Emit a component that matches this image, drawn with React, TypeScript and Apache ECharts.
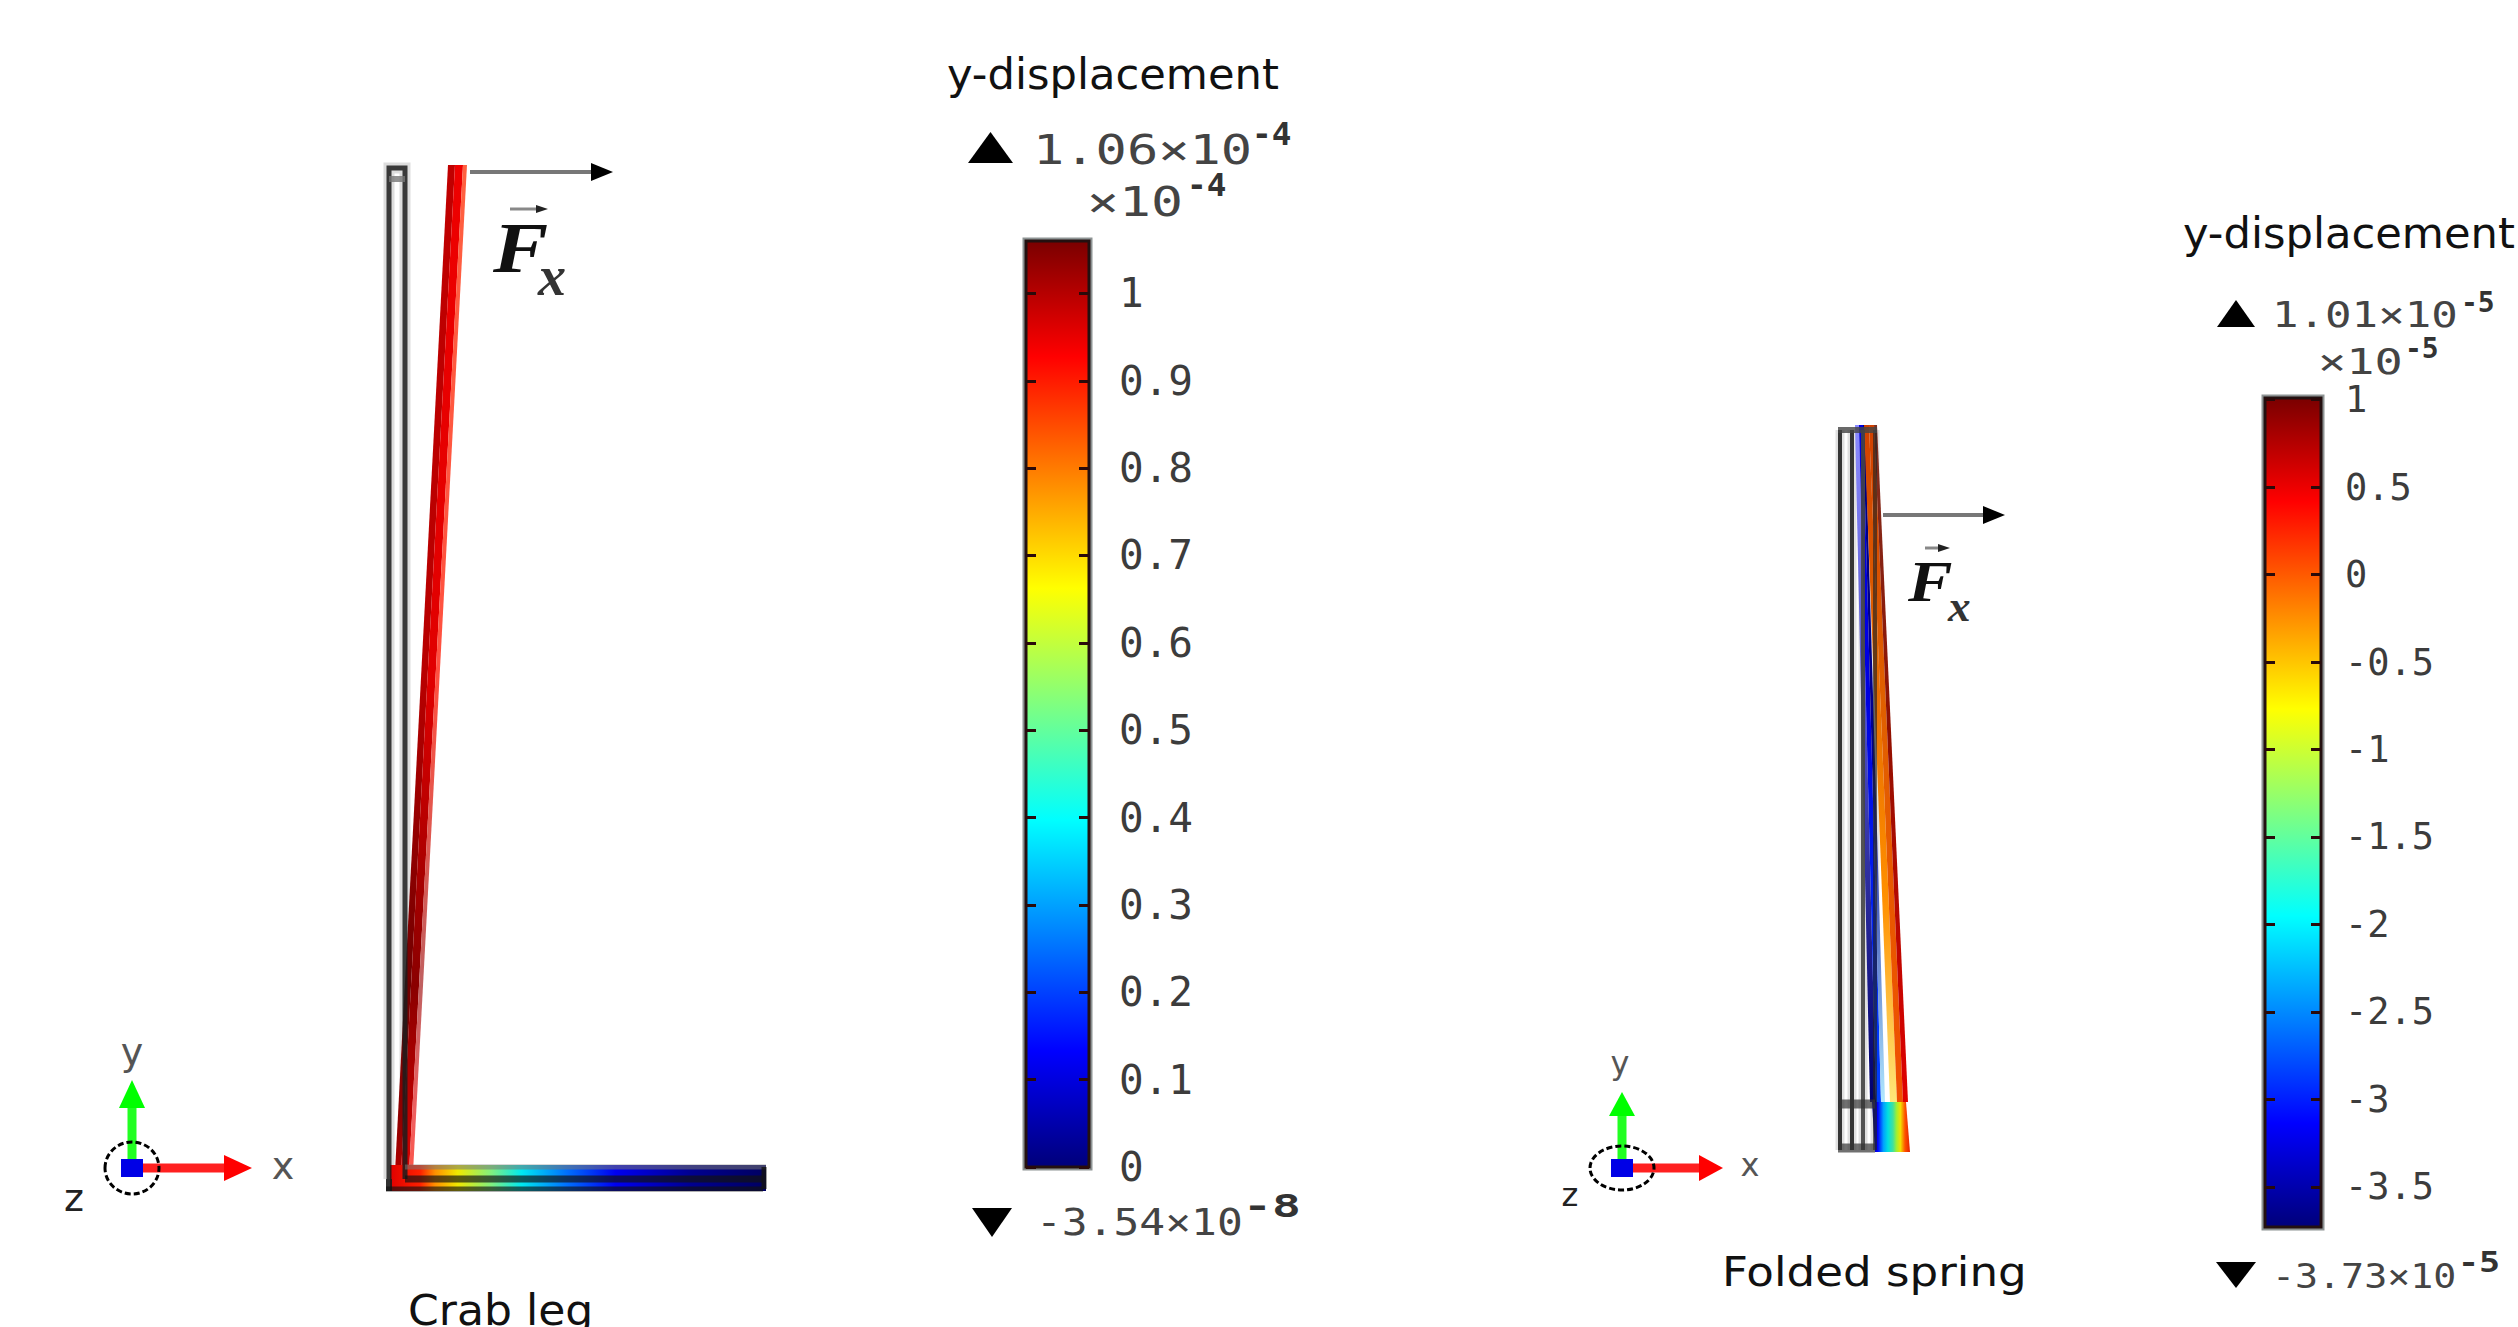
import React, { useEffect, useRef } from "react";
import * as echarts from "echarts";

// Colour-bar ranges and ticks (units of the bar's multiplier)
const crabLegRange = [0, 1.06];
const crabLegTicks = [0, 0.1, 0.2, 0.3, 0.4, 0.5, 0.6, 0.7, 0.8, 0.9, 1];
const springRange = [-3.73, 1.01];
const springTicks = [-3.5, -3, -2.5, -2, -1.5, -1, -0.5, 0, 0.5, 1];
const jetStops: [number, string][] = [
  [0, "#00007a"], [0.125, "#0000ff"], [0.375, "#00ffff"], [0.625, "#ffff00"], [0.875, "#ff0000"], [1, "#7a0000"],
];

// Crab leg geometry (model length units): deformed beam strips, foot, undeformed outline
const crabColumnDark = [[9, 0], [15, 0], [70, 1026], [63, 1026]];
const crabColumnCore = [[15, 0], [23, 0], [78, 1026], [70, 1026]];
const crabColumnPale = [[23, 0], [27, 0], [82, 1026], [78, 1026]];
const crabFoot = [[5, 0], [381, 0], [381, 26], [5, 26]];
const crabOutlineUpright = [[4, 12], [4, 1023], [20, 1023], [20, 12]];
const crabOutlineCap = [[4, 1012], [20, 1012]];
const crabOutlineFootBottom = [[1, 2], [378, 2]];
const crabOutlineFootMiddle = [[20, 12], [378, 12]];
const crabOutlineFootTop = [[20, 24], [381, 24]];
const crabOutlineFootEnd = [[379, 2], [379, 24]];
const crabOutlineLeftEdge = [[4, 0], [4, 12]];

// Folded spring geometry (model length units)
const springBlueA = [[35, 50], [41, 50], [24, 727], [20, 727]];
const springBlueB = [[41, 50], [46, 50], [28, 727], [24, 727]];
const springBlueC = [[46, 50], [50, 50], [30, 727], [28, 727]];
const springRedA = [[55, 50], [62, 50], [34, 727], [29, 727]];
const springRedB = [[62, 50], [68, 50], [39, 727], [34, 727]];
const springRedC = [[68, 50], [73, 50], [42, 727], [39, 727]];
const springBase = [[40, 0], [75, 0], [71, 50], [37, 50]];
const springLines = [5, 17, 28, 40];
const springCrossBars = [4, 48];
const springTop = 722;

const mono = "'DejaVu Sans Mono'";
const sans = "'DejaVu Sans'";
const serif = "'Liberation Serif'";

const grad = (x: number, y: number, x2: number, y2: number, stops: [number, string][]) =>
  new echarts.graphic.LinearGradient(x, y, x2, y2, stops.map(([offset, color]) => ({ offset, color })));

function quad(name: string, gridIndex: number, yAxisIndex: number, pts: number[][], fill: any, z = 3): any {
  return {
    type: "custom", name, xAxisIndex: gridIndex, yAxisIndex, z, silent: true, clip: false,
    data: [pts.flat()],
    encode: { x: [0, 2, 4, 6], y: [1, 3, 5, 7] },
    renderItem: (_p: any, api: any) => ({
      type: "polygon",
      shape: { points: pts.map((_, i) => api.coord([api.value(i * 2), api.value(i * 2 + 1)])) },
      style: { fill },
    }),
  };
}
function polyline(name: string, gridIndex: number, yAxisIndex: number, pts: number[][], color: string, width: number, opacity = 1, z = 5): any {
  return {
    type: "line", name, xAxisIndex: gridIndex, yAxisIndex, z, silent: true, clip: false,
    data: pts, showSymbol: false, symbol: "none", animation: false,
    lineStyle: { color, width, opacity, cap: "butt", join: "miter" },
  };
}
function colorBar(name: string, gridIndex: number, axisIndex: number, range: number[]): any {
  return {
    type: "custom", name, xAxisIndex: gridIndex, yAxisIndex: axisIndex, z: 1, silent: true, clip: false,
    data: [[0, range[0], 1, range[1]]],
    encode: { x: [0, 2], y: [1, 3] },
    renderItem: (_p: any, api: any) => {
      const a = api.coord([api.value(0), api.value(1)]);
      const b = api.coord([api.value(2), api.value(3)]);
      const rect = { x: a[0], y: b[1], width: b[0] - a[0], height: a[1] - b[1] };
      return {
        type: "group",
        children: [
          { type: "rect", shape: { x: rect.x - 2, y: rect.y - 2, width: rect.width + 4, height: rect.height + 4 }, style: { fill: "#fff", stroke: "#8e9494", lineWidth: 3 } },
          { type: "rect", shape: rect, style: { fill: grad(0, 1, 0, 0, jetStops), stroke: "#231010", lineWidth: 3 } },
        ],
      };
    },
  };
}
function valueAxis(gridIndex: number, range: number[], ticks: number[], position: string, fontSize: number, margin: number, labels: boolean): any {
  return {
    type: "value", gridIndex, min: range[0], max: range[1], position, splitLine: { show: false },
    axisLine: { show: false },
    axisTick: { show: true, inside: true, length: 10, customValues: ticks, lineStyle: { color: "#2a0a0a", width: 3 } },
    axisLabel: labels
      ? { show: true, customValues: ticks, fontFamily: mono, fontSize, color: "#3c3c3c", margin, align: "left", formatter: (v: number) => String(v) }
      : { show: false },
    z: 4,
  };
}
const hiddenAxis = (gridIndex: number, min: number, max: number): any => ({ type: "value", gridIndex, min, max, show: false });

const txt = (x: number, y: number, text: string, fontSize: number, family: string, color: string, scaleX = 1, extra: any = {}) => ({
  type: "text", x, y, scaleX, z: 20, silent: true,
  style: { text, fontSize, fontFamily: family, fill: color, align: "left", verticalAlign: "middle", ...extra },
});
const sup = (x: number, y: number, text: string, fontSize: number, scaleX: number) =>
  txt(x, y, text, fontSize, mono, "#333", scaleX, { fontWeight: "bold" });
const poly = (pts: number[][], fill: string, opacity = 1) => ({ type: "polygon", z: 18, silent: true, shape: { points: pts }, style: { fill, opacity } });
const seg = (x1: number, y1: number, x2: number, y2: number, stroke: string, lineWidth: number) => ({
  type: "line", z: 17, silent: true, shape: { x1, y1, x2, y2 }, style: { stroke, lineWidth },
});

function triad(ox: number, oy: number, topY: number, tipX: number, rx: number, ry: number, head: number, lab: number[][], fs: number) {
  return [
    seg(ox, oy, ox, topY + head, "#22ff22", 9),
    poly([[ox, topY], [ox - 13, topY + head], [ox + 13, topY + head]], "#00ff00"),
    seg(ox, oy, tipX - head, oy, "#ff2020", 9),
    poly([[tipX, oy], [tipX - head, oy - 13], [tipX - head, oy + 13]], "#ff0000"),
    { type: "rect", z: 19, silent: true, shape: { x: ox - 11, y: oy - 9, width: 22, height: 18 }, style: { fill: "#0000e6" } },
    { type: "ellipse", z: 19, silent: true, shape: { cx: ox, cy: oy, rx, ry }, style: { fill: "none", stroke: "#000", lineWidth: 3, lineDash: [6, 3] } },
    txt(lab[0][0], lab[0][1], "y", fs, sans, "#555", 1, { align: "center" }),
    txt(lab[1][0], lab[1][1], "x", fs, sans, "#555", 1, { align: "center" }),
    txt(lab[2][0], lab[2][1], "z", fs, sans, "#222", 1, { align: "center" }),
  ];
}
function force(ax1: number, ay: number, ax2: number, fx: number, fy: number, fs: number, sub: number[], vec: number[]) {
  return [
    seg(ax1, ay, ax2 - 20, ay, "#777", 4),
    poly([[ax2, ay], [ax2 - 22, ay - 9], [ax2 - 22, ay + 9]], "#000"),
    txt(fx, fy, "F", fs, serif, "#111", 1.15, { fontWeight: "bold", fontStyle: "italic" }),
    txt(sub[0], sub[1], "x", fs * 0.78, serif, "#333", 1, { fontWeight: "bold", fontStyle: "italic" }),
    seg(vec[0], vec[2], vec[1] - 8, vec[2], "#888", 3),
    poly([[vec[1], vec[2]], [vec[1] - 12, vec[2] - 4], [vec[1] - 12, vec[2] + 4]], "#222"),
  ];
}
const triUp = (x1: number, x2: number, y1: number, y2: number) => poly([[(x1 + x2) / 2, y1], [x1, y2], [x2, y2]], "#000");
const triDown = (x1: number, x2: number, y1: number, y2: number) => poly([[(x1 + x2) / 2, y2], [x1, y1], [x2, y1]], "#000");

export default function App() {
  const ref = useRef<HTMLDivElement>(null);
  useEffect(() => {
    const chart = echarts.init(ref.current!, undefined, { renderer: "svg" });
    const columnFill = (a: string, b: string, c: string, d: string) =>
      grad(0, 0, 0, 1, [[0, a], [0.5, b], [0.8, c], [0.93, d], [1, b]]);
    // spring strips: first stop is at the fixed (lower) end of the strip
    const up = (stops: [number, string][]) => grad(0, 1, 0, 0, stops);
    const footFill = grad(0, 0, 1, 0, [[0, "#e00000"], [0.08, "#ff2000"], [0.12, "#ff9000"], [0.18, "#f0e800"], [0.27, "#80f080"], [0.35, "#00e8f0"], [0.47, "#0070ff"], [0.6, "#0000f0"], [0.8, "#000090"], [1, "#000060"]]);
    const springLinesData = springLines.map((x) => [[x, 2], [x, springTop]]);
    const series: any[] = [
      colorBar("crab colour bar", 1, 2, crabLegRange),
      colorBar("spring colour bar", 3, 6, springRange),
      quad("crab column dark", 0, 0, crabColumnDark, columnFill("#c00000", "#b80000", "#700000", "#900000")),
      quad("crab column core", 0, 0, crabColumnCore, columnFill("#ee0000", "#e00000", "#8a0000", "#c00000")),
      quad("crab column pale", 0, 0, crabColumnPale, columnFill("#ff6040", "#ff5040", "#c06060", "#f06060")),
      quad("crab foot", 0, 0, crabFoot, footFill),
      polyline("crab upright halo", 0, 0, crabOutlineUpright, "#bbbbbb", 11, 0.5, 2),
      polyline("crab upright", 0, 0, crabOutlineUpright, "#1c1c1c", 5, 0.85),
      polyline("crab cap", 0, 0, crabOutlineCap, "#777", 6, 0.8),
      polyline("crab left edge", 0, 0, crabOutlineLeftEdge, "#1c1c1c", 6, 0.9),
      polyline("crab foot bottom", 0, 0, crabOutlineFootBottom, "#111", 5, 0.65),
      polyline("crab foot middle", 0, 0, crabOutlineFootMiddle, "#111", 7, 0.68),
      polyline("crab foot top", 0, 0, crabOutlineFootTop, "#777", 5, 0.55),
      polyline("crab foot end", 0, 0, crabOutlineFootEnd, "#111", 5, 0.8),
      quad("spring base", 2, 3, springBase, grad(0, 0, 1, 0, [[0, "#000090"], [0.15, "#0000ff"], [0.3, "#00a0ff"], [0.42, "#00e0e0"], [0.55, "#40e0a0"], [0.65, "#a0f030"], [0.75, "#f0e000"], [0.87, "#ff5000"], [1, "#e02000"]])),
      quad("spring blue a", 2, 3, springBlueA, up([[0, "#000070"], [1, "#8a8aff"]])),
      quad("spring blue b", 2, 3, springBlueB, up([[0, "#0040ff"], [0.6, "#0000e0"], [1, "#0000e0"]])),
      quad("spring blue c", 2, 3, springBlueC, up([[0, "#b0e8ff"], [0.5, "#000090"], [1, "#000080"]])),
      quad("spring red a", 2, 3, springRedA, up([[0, "#ffe878"], [0.3, "#ff9000"], [0.7, "#e06000"], [1, "#d04000"]])),
      quad("spring red b", 2, 3, springRedB, up([[0, "#f05000"], [0.6, "#e06000"], [1, "#d04000"]])),
      quad("spring red c", 2, 3, springRedC, up([[0, "#e00000"], [0.55, "#901000"], [1, "#803020"]])),
      ...springLinesData.map((d, i) => polyline(`spring line halo ${i}`, 2, 3, d, "#bbb", 9, 0.45, 2)),
      ...springLinesData.map((d, i) => polyline(`spring line ${i}`, 2, 3, d, i === 2 ? "#444" : "#222", 4, i === 3 ? 0.65 : 0.9)),
      ...springCrossBars.map((y, i) => polyline(`spring bar ${i}`, 2, 3, [[3, y], [40, y]], "#333", 9, 0.7)),
      polyline("spring cap", 2, 3, [[3, springTop], [42, springTop]], "#444", 6, 0.8),
    ];
    chart.setOption({
      animation: false,
      backgroundColor: "#ffffff",
      tooltip: { show: false },
      grid: [
        { left: 385, top: 165, width: 381, height: 1026 },
        { left: 1026, top: 241, width: 63, height: 926 },
        { left: 1835, top: 425, width: 80, height: 727 },
        { left: 2265, top: 398, width: 56, height: 829 },
      ],
      xAxis: [hiddenAxis(0, 0, 381), hiddenAxis(1, 0, 1), hiddenAxis(2, 0, 80), hiddenAxis(3, 0, 1)],
      yAxis: [
        hiddenAxis(0, 0, 1026),
        valueAxis(1, crabLegRange, crabLegTicks, "left", 41, 0, false),
        valueAxis(1, crabLegRange, crabLegTicks, "right", 41, 30, true),
        hiddenAxis(2, 0, 727),
        hiddenAxis(2, 0, 727),
        valueAxis(3, springRange, springTicks, "left", 37, 0, false),
        valueAxis(3, springRange, springTicks, "right", 37, 24, true),
      ],
      series,
      graphic: [
        txt(947, 74, "y-displacement", 42, sans, "#111", 1.03),
        triUp(968, 1013, 132, 163),
        txt(1033, 150, "1.06×10", 40, mono, "#444", 1.3),
        sup(1252, 134, "-4", 32, 1.02),
        txt(1087, 202, "×10", 40, mono, "#444", 1.33),
        sup(1187, 185, "-4", 32, 1.02),
        triDown(972, 1012, 1208, 1237),
        txt(1036, 1222, "-3.54×10", 38, mono, "#444", 1.13),
        sup(1243, 1206, "-8", 32, 1.5),
        ...force(470, 172, 613, 493, 248, 72, [538, 276], [510, 548, 209]),
        ...triad(132, 1168, 1080, 252, 27, 26, 28, [[132, 1052], [283, 1166], [74, 1198]], 38),
        txt(408, 1310, "Crab leg", 42, sans, "#111", 1.05),

        txt(2183, 233, "y-displacement", 42, sans, "#111", 1.03),
        triUp(2217, 2255, 300, 327),
        txt(2272, 315, "1.01×10", 35, mono, "#444", 1.26),
        sup(2461, 302, "-5", 28, 1),
        txt(2318, 362, "×10", 35, mono, "#444", 1.34),
        sup(2405, 348, "-5", 28, 1),
        triDown(2216, 2256, 1262, 1288),
        txt(2272, 1276, "-3.73×10", 33, mono, "#444", 1.16),
        sup(2458, 1262, "-5", 28, 1.25),
        ...force(1883, 515, 2005, 1908, 582, 58, [1948, 606], [1925, 1950, 548]),
        ...triad(1622, 1168, 1092, 1723, 32, 22, 24, [[1620, 1063], [1750, 1165], [1570, 1195]], 32),
        txt(1722, 1272, "Folded spring", 40, sans, "#111", 1.13),
      ],
    });
    return () => chart.dispose();
  }, []);
  return <div ref={ref} style={{ position: "absolute", left: 0, top: 0, width: 2518, height: 1327, overflow: "hidden" }} />;
}
